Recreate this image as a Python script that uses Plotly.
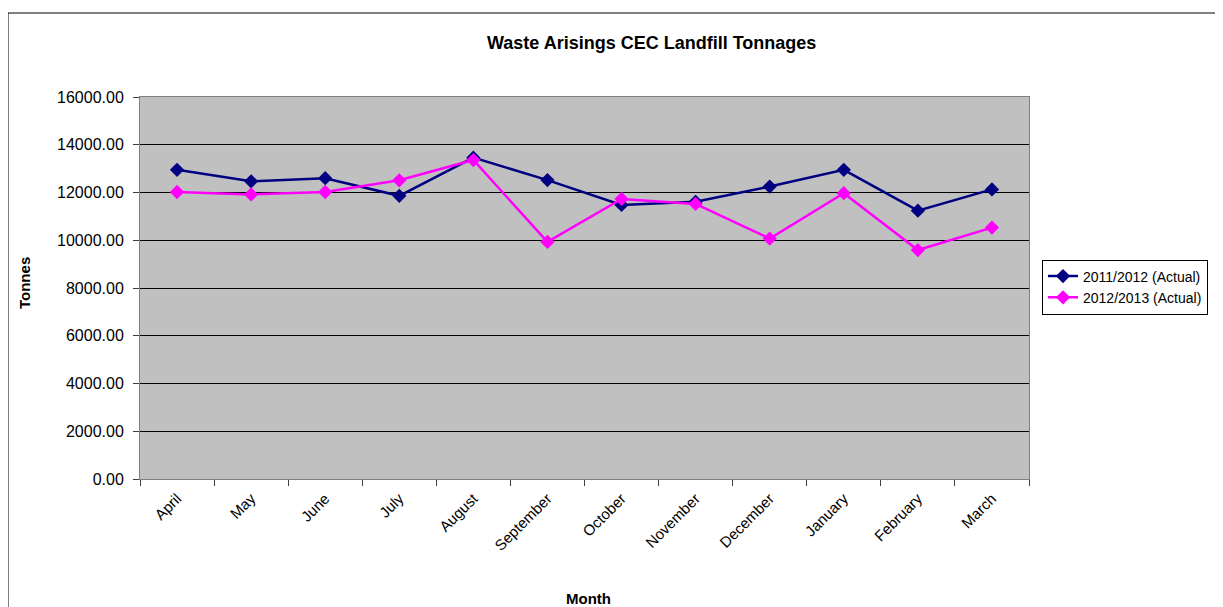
import plotly.graph_objects as go

months = ["April", "May", "June", "July", "August", "September", "October",
          "November", "December", "January", "February", "March"]
y2011 = [12950, 12470, 12600, 11860, 13460, 12520, 11480, 11610, 12250, 12950, 11240, 12130]
y2012 = [12020, 11920, 12020, 12510, 13360, 9930, 11730, 11520, 10070, 11970, 9590, 10530]
series_names = ["2011/2012 (Actual)", "2012/2013 (Actual)"]
y_ticks = [0, 2000, 4000, 6000, 8000, 10000, 12000, 14000, 16000]

FONT = "Liberation Sans, Arial, sans-serif"

fig = go.Figure()
fig.add_trace(go.Scatter(x=months, y=y2011, name=series_names[0], mode="lines+markers",
                         line=dict(color="#000080", width=2.5),
                         marker=dict(symbol="diamond", size=11, color="#000080")))
fig.add_trace(go.Scatter(x=months, y=y2012, name=series_names[1], mode="lines+markers",
                         line=dict(color="#FF00FF", width=2.5),
                         marker=dict(symbol="diamond", size=11, color="#FF00FF")))

# page body has an 8px offset; screen coords = figure coords + 8
OFF = 8
W, H = 1223, 607
L, R, T, B = 140, 1029, 97, 479          # plot area in screen pixels
PW, PH = R - L, B - T


def px(x):
    return (x - L) / PW


def py(y):
    return (B - y) / PH


fig.update_layout(
    width=W, height=H,
    margin=dict(l=L - OFF, r=W - (R - OFF), t=T - OFF, b=H - (B - OFF), autoexpand=False),
    paper_bgcolor="white", plot_bgcolor="#C0C0C0",
    font=dict(family=FONT, size=15, color="black"),
    showlegend=True,
    legend=dict(x=px(1042), xanchor="left", y=py(287), yanchor="middle",
                bordercolor="black", borderwidth=1, bgcolor="white",
                font=dict(size=14, family=FONT), tracegroupgap=0),
    xaxis=dict(type="category", range=[-0.5, len(months) - 0.5], tickangle=-45,
               ticks="outside", tickson="boundaries",
               ticklen=6, tickcolor="#404040", showgrid=False, ticklabelstandoff=4,
               showline=True, linecolor="#808080", linewidth=1, mirror=True,
               tickfont=dict(size=15, family=FONT)),
    yaxis=dict(range=[0, 16000], tickvals=y_ticks, tickformat=".2f", ticks="outside",
               ticklen=6, tickcolor="#404040", showgrid=True, gridcolor="black", gridwidth=1,
               showline=True, linecolor="#808080", linewidth=1, mirror=True, ticklabelstandoff=6,
               zeroline=False, tickfont=dict(size=16, family=FONT)),
    annotations=[
        dict(text="<b>Waste Arisings CEC Landfill Tonnages</b>", xref="paper", yref="paper",
             x=px(651), y=py(43), xanchor="center", yanchor="middle", showarrow=False,
             font=dict(size=18, family=FONT)),
        dict(text="<b>Month</b>", xref="paper", yref="paper",
             x=px(588), y=py(598), xanchor="center", yanchor="middle", showarrow=False,
             font=dict(size=15, family=FONT)),
        dict(text="<b>Tonnes</b>", xref="paper", yref="paper", textangle=-90,
             x=px(24), y=py(283), xanchor="center", yanchor="middle", showarrow=False,
             font=dict(size=15, family=FONT)),
    ],
)
# outer chart border
fig.add_shape(type="rect", xref="paper", yref="paper",
              x0=px(8), x1=px(1260), y0=py(640), y1=py(13),
              line=dict(color="black", width=1), fillcolor="rgba(0,0,0,0)", layer="below")

fig.write_html("out.html")
